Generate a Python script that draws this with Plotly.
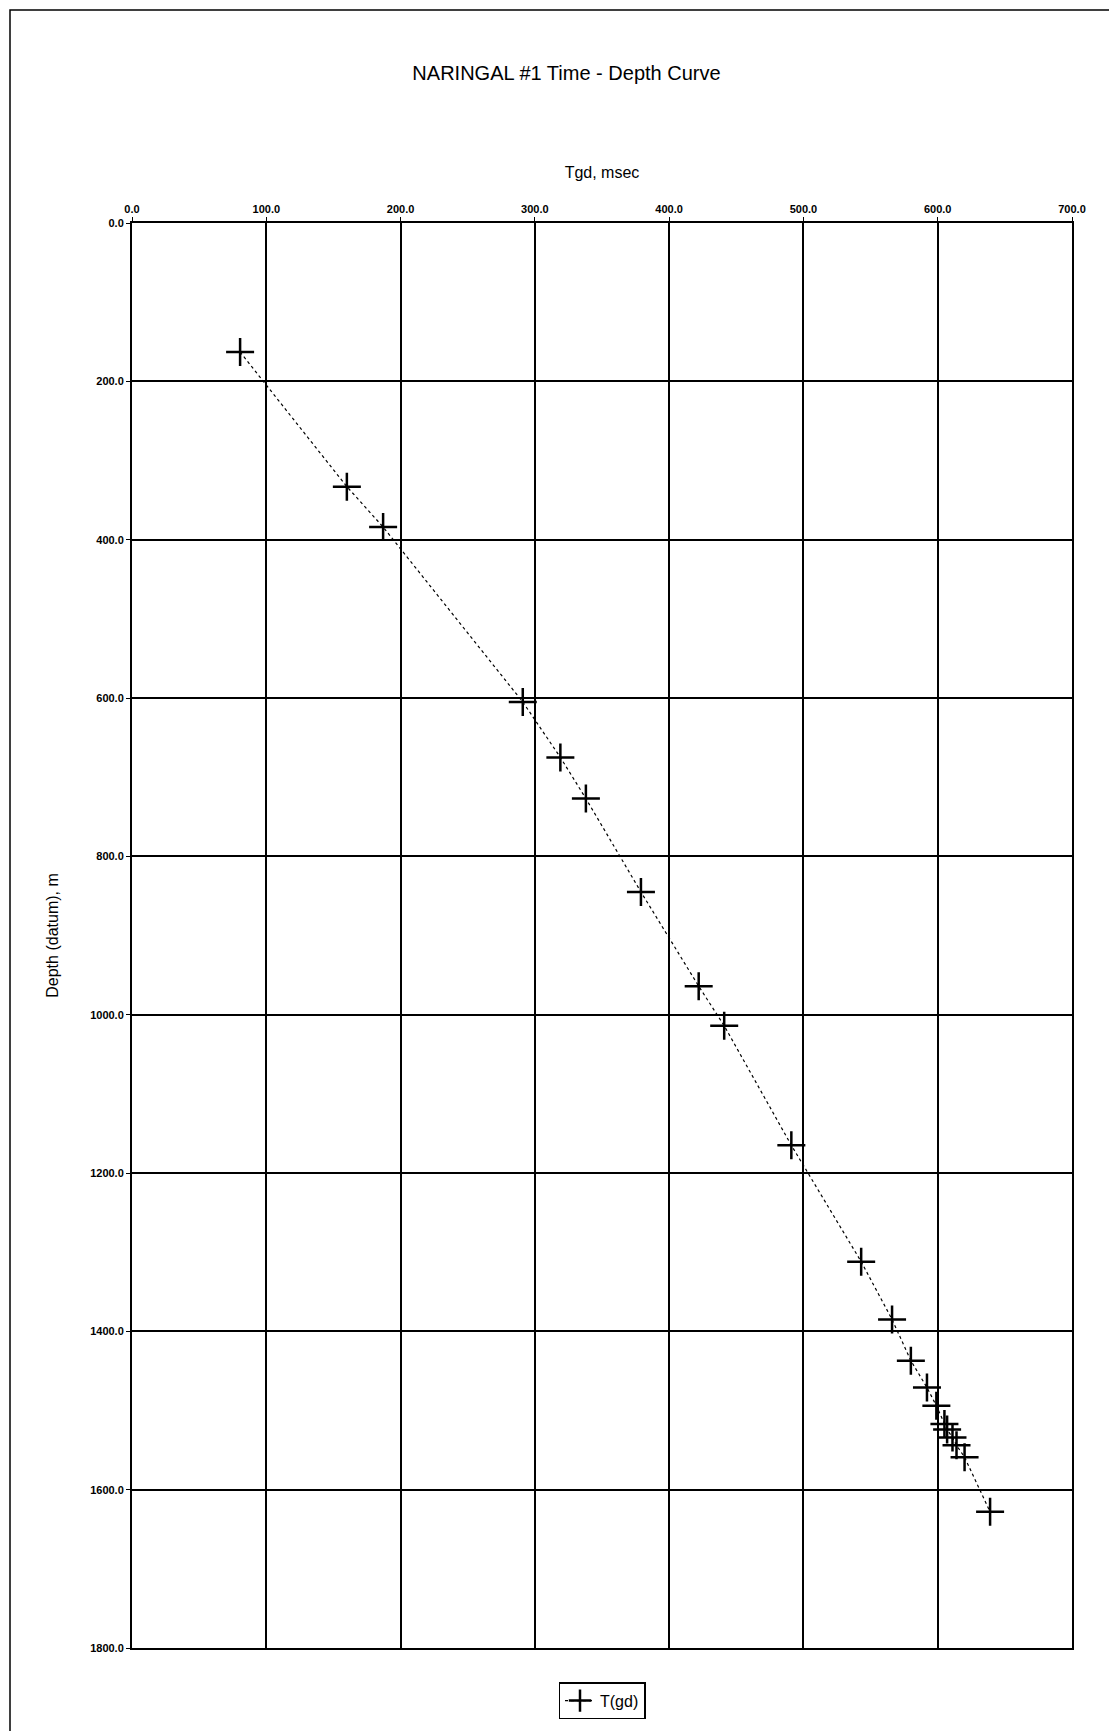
import plotly.graph_objects as go

# Time-depth pairs
tgd_msec = [80.5, 160, 187, 291, 319, 338, 379, 422, 441, 491, 543, 566, 580,
            592, 599, 605, 607, 611, 614, 620, 639]
depth_m = [163, 333, 384, 605, 675, 727, 845, 964, 1014, 1165, 1312, 1385, 1437,
           1471, 1494, 1517, 1524, 1534, 1544, 1559, 1628]

x_ticks = [0, 100, 200, 300, 400, 500, 600, 700]
y_ticks = [0, 200, 400, 600, 800, 1000, 1200, 1400, 1600, 1800]

FONT = "Arial, Liberation Sans"
L, R, T, B = 124, 53, 215, 91
W, H = 1117, 1731
pw, ph = W - L - R, H - T - B

fig = go.Figure()
fig.add_trace(go.Scatter(
    x=tgd_msec, y=depth_m, name="T(gd)", mode="lines+markers",
    line=dict(color="black", width=1.2, dash="dot"),
    marker=dict(symbol="cross-thin", size=20, line=dict(color="black", width=2.5)),
))

axis_common = dict(showline=True, linecolor="black", linewidth=2, mirror=True,
                   showgrid=True, gridcolor="black", gridwidth=1.5, zeroline=False,
                   ticks="outside", ticklen=4, tickcolor="black",
                   tickfont=dict(family=FONT, size=11, color="black", weight="bold"))

fig.update_layout(
    width=W, height=H,
    paper_bgcolor="white", plot_bgcolor="white",
    margin=dict(l=L, r=R, t=T, b=B),
    title=dict(text="NARINGAL #1 Time - Depth Curve", x=0.5, xanchor="center",
               y=1 - 65 / H, yanchor="middle",
               font=dict(family=FONT, size=20, color="black")),
    xaxis=dict(range=[0, 700], side="top", tickvals=x_ticks,
               ticktext=[f"{v:.1f}" for v in x_ticks],
               title=dict(text="Tgd, msec", font=dict(family=FONT, size=16, color="black"),
                          standoff=20),
               **axis_common),
    yaxis=dict(range=[1800, 0], tickvals=y_ticks,
               ticktext=[f"{v:.1f}" for v in y_ticks],
               title=dict(text="Depth (datum), m", font=dict(family=FONT, size=16, color="black"),
                          standoff=28),
               **axis_common),
    showlegend=True,
    legend=dict(orientation="h", x=0.5, xanchor="center", y=-0.024, yanchor="top",
                bordercolor="black", borderwidth=1.5,
                font=dict(family=FONT, size=16, color="black")),
    shapes=[dict(type="rect", xref="paper", yref="paper",
                 x0=-(L - 2) / pw, x1=1 + (R - 2) / pw, y0=-(B - 2) / ph, y1=1 + (T - 2) / ph,
                 line=dict(color="black", width=1.5))],
)

fig.write_html("out.html")
